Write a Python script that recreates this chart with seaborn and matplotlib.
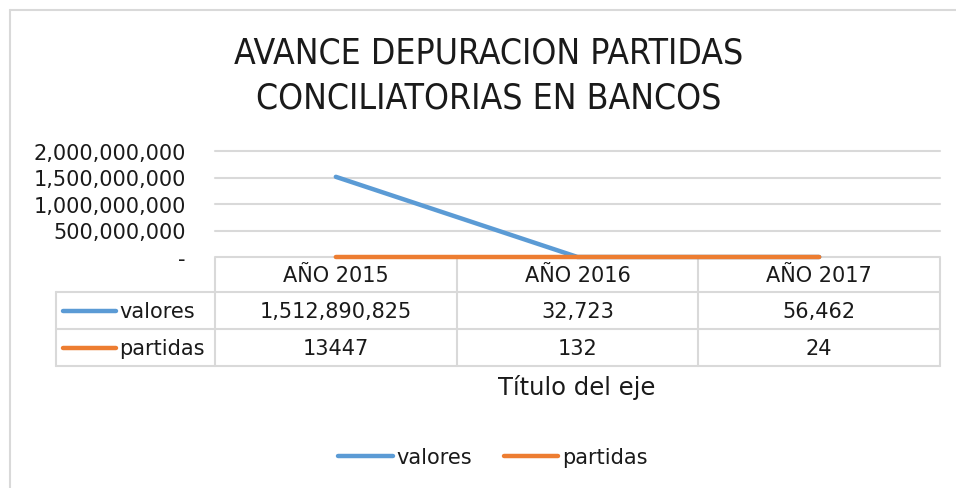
import matplotlib
matplotlib.use("Agg")
import matplotlib.pyplot as plt
import seaborn as sns
import pandas as pd
from matplotlib.lines import Line2D
from matplotlib.transforms import blended_transform_factory

# ---- data ----
years = ["AÑO 2015", "AÑO 2016", "AÑO 2017"]
valores = [1512890825, 32723, 56462]
partidas = [13447, 132, 24]
series_names = ["valores", "partidas"]
valores_text = ["1,512,890,825", "32,723", "56,462"]
partidas_text = ["13447", "132", "24"]
yticks = [0, 500000000, 1000000000, 1500000000, 2000000000]
title = "AVANCE DEPURACION PARTIDAS\nCONCILIATORIAS EN BANCOS"
axis_title = "Título del eje"

BLUE = "#5b9bd5"
ORANGE = "#ed7d31"
GRID = "#d9d9d9"
TXT = "#1a1a1a"
FS = 15

sns.set_theme(style="white")
plt.rcParams["font.family"] = ["DejaVu Sans"]

W, H = 956, 489
fig = plt.figure(figsize=(W / 100, H / 100), dpi=100)

def fx(px):
    return px / W

def fy(py):
    return 1 - py / H

# plot area
ax_left, ax_right, ax_top, ax_bot = 215, 940, 152, 258
ax = fig.add_axes([fx(ax_left), fy(ax_bot), fx(ax_right) - fx(ax_left), fy(ax_top) - fy(ax_bot)])

# gridlines + base line first (below series)
for v in yticks[1:]:
    ax.axhline(v, color=GRID, lw=1.5, zorder=0)
ax.axhline(0, color=GRID, lw=1.5, zorder=0, clip_on=False)

df = pd.DataFrame({
    "x": list(range(len(years))) * 2,
    "value": valores + partidas,
    "serie": [series_names[0]] * len(years) + [series_names[1]] * len(years),
})
sns.lineplot(data=df, x="x", y="value", hue="serie", palette=[BLUE, ORANGE],
             linewidth=3.2, ax=ax, legend=False, solid_capstyle="round")
for ln in ax.lines:
    ln.set_clip_on(False)
    ln.set_zorder(3)

ax.set_xlim(-0.5, len(years) - 0.5)
ax.set_ylim(0, 2000000000)
ax.set_yticks(yticks)
ax.set_yticklabels(["-"] + [f"{v:,}" for v in yticks[1:]], fontsize=FS, color=TXT)
ax.tick_params(axis="y", length=0, pad=21)
ax.set_xticks([])
ax.set_xlabel("")
ax.set_ylabel("")
for sp in ax.spines.values():
    sp.set_visible(False)

# ---- data table drawn under the axis ----
tr = blended_transform_factory(ax.transData, fig.transFigure)
ftr = fig.transFigure
row_y = [258, 293, 330, 367]
lw_t = 1.5
for yy in row_y[1:]:
    fig.add_artist(Line2D([fx(56), fx(940)], [fy(yy), fy(yy)], color=GRID, lw=lw_t, transform=ftr, zorder=-1))
fig.add_artist(Line2D([fx(56), fx(56)], [fy(293), fy(367)], color=GRID, lw=lw_t, transform=ftr, zorder=-1))
for i in range(len(years) + 1):
    fig.add_artist(Line2D([i - 0.5, i - 0.5], [fy(259), fy(367)], color=GRID, lw=lw_t, transform=tr, zorder=-1))

for i, yr in enumerate(years):
    fig.text(i, fy(276), yr, transform=tr, ha="center", va="center", fontsize=FS, color=TXT)
    fig.text(i, fy(312), valores_text[i], transform=tr, ha="center", va="center", fontsize=FS, color=TXT)
    fig.text(i, fy(349), partidas_text[i], transform=tr, ha="center", va="center", fontsize=FS, color=TXT)

# legend keys inside the table
for name, col, yy in [(series_names[0], BLUE, 312), (series_names[1], ORANGE, 349)]:
    fig.add_artist(Line2D([fx(63), fx(116)], [fy(yy), fy(yy)], color=col, lw=3.2,
                          solid_capstyle="round", transform=ftr))
    fig.text(fx(119), fy(yy), name, ha="left", va="center", fontsize=FS, color=TXT)

# axis title
fig.text(fx(577), fy(388), axis_title, ha="center", va="center", fontsize=17.5, color=TXT)

# chart title
fig.text(fx(489), fy(76), title, ha="center", va="center", fontsize=25.5,
         fontstretch="condensed", color=TXT, linespacing=1.4)

# bottom legend
handles = [Line2D([0], [0], color=BLUE, lw=3.2, solid_capstyle="round"),
           Line2D([0], [0], color=ORANGE, lw=3.2, solid_capstyle="round")]
fig.legend(handles, series_names, loc="center", bbox_to_anchor=(fx(493), fy(458)),
           ncol=2, frameon=False, fontsize=FS, handlelength=2.6, handletextpad=0.2,
           columnspacing=1.5, labelcolor=TXT)

# chart border
fig.add_artist(Line2D([fx(10), fx(10)], [fy(11), 0], color=GRID, lw=1.5, transform=ftr))
fig.add_artist(Line2D([fx(10), 1], [fy(11), fy(11)], color=GRID, lw=1.5, transform=ftr))

fig.savefig("out.png", dpi=100)
